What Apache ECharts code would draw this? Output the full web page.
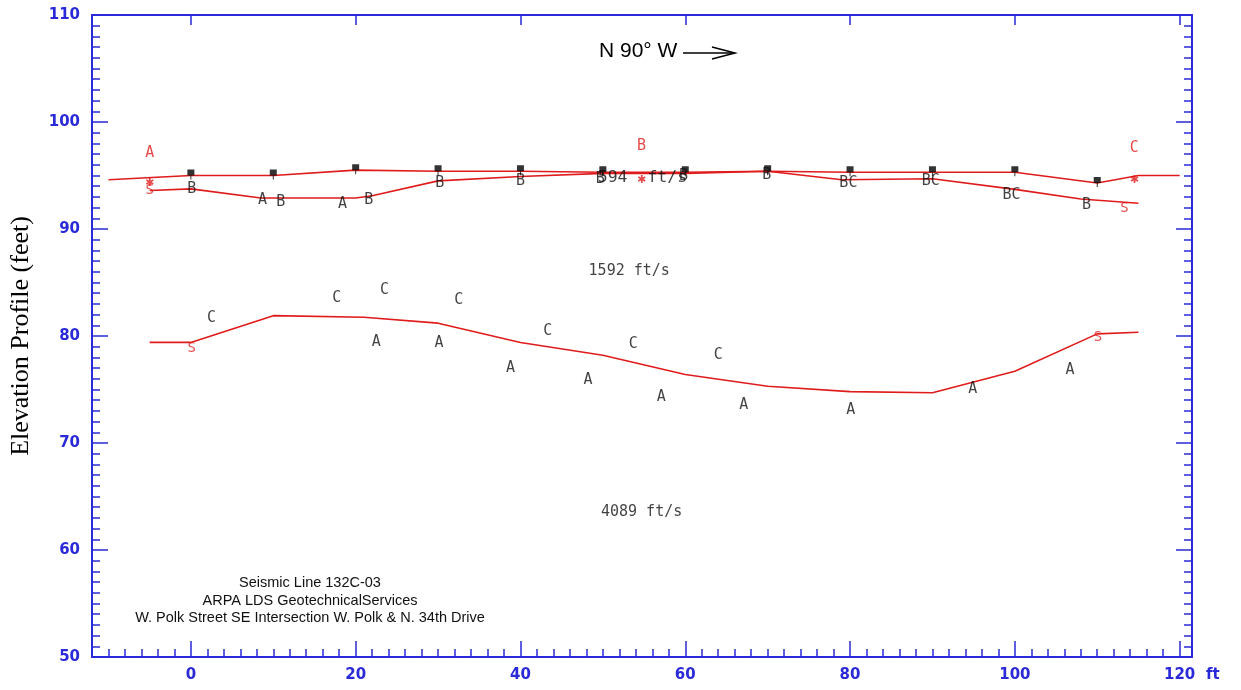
<!DOCTYPE html>
<html>
<head>
<meta charset="utf-8">
<script src="https://cdn.jsdelivr.net/npm/echarts@6/dist/echarts.min.js"></script>
<style>html,body{margin:0;padding:0;background:#fff}#c{width:1241px;height:690px}</style>
</head>
<body>
<div id="c"></div>
<script>
// ---- data ----
const xTicks = [0, 20, 40, 60, 80, 100, 120];
const yTicks = [50, 60, 70, 80, 90, 100, 110];
const surfaceX = [-10, 0, 10, 20, 30, 40, 50, 60, 70, 80, 90, 100, 110, 115, 120];
const surfaceY = [94.6, 95.0, 95.0, 95.5, 95.4, 95.4, 95.3, 95.3, 95.4, 95.3, 95.3, 95.3, 94.3, 95.0, 95.0];
const layer1X = [-5, 0, 8.5, 20, 22, 30, 40, 50, 60, 70, 79, 90, 100, 108, 115];
const layer1Y = [93.6, 93.75, 92.9, 92.9, 93.1, 94.5, 94.9, 95.2, 95.2, 95.4, 94.6, 94.7, 93.7, 92.8, 92.4];
const layer2X = [-5, 0, 10, 21, 30, 40, 50, 60, 70, 80, 90, 100, 110, 115];
const layer2Y = [79.4, 79.4, 81.9, 81.75, 81.2, 79.4, 78.2, 76.4, 75.3, 74.8, 74.7, 76.7, 80.2, 80.35];
const geophoneX = [0, 10, 20, 30, 40, 50, 60, 70, 80, 90, 100, 110];
const geophoneY = [95.0, 95.0, 95.5, 95.4, 95.4, 95.3, 95.3, 95.4, 95.3, 95.3, 95.3, 94.3];
const pickLabels = ['B', 'A', 'B', 'A', 'B', 'B', 'B', 'B', 'B', 'B', 'BC', 'BC', 'BC', 'B',
  'C', 'C', 'C', 'C', 'A', 'A', 'A', 'C', 'A', 'C', 'A', 'C', 'A', 'A', 'A', 'A'];
const pickX = [0.1, 8.7, 10.9, 18.4, 21.6, 30.2, 40, 49.7, 59.8, 69.9, 79.8, 89.8, 99.6, 108.7,
  2.5, 17.7, 23.5, 32.5, 22.5, 30.1, 38.8, 43.3, 48.2, 53.7, 57.1, 64, 67.1, 80.1, 94.9, 106.7];
const pickY = [93.7, 92.7, 92.5, 92.3, 92.7, 94.3, 94.5, 94.7, 94.9, 95.0, 94.25, 94.5, 93.2, 92.2,
  81.65, 83.5, 84.25, 83.4, 79.4, 79.3, 77.0, 80.5, 75.9, 79.2, 74.3, 78.2, 73.5, 73.06, 75.0, 76.8];
const shotLabels = ['A', 'B', 'C'];
const shotX = [-5, 54.7, 114.5];
const shotLabelY = [97.1, 97.75, 97.6];
const shotMarkY = [94.25, 94.6, 94.6];
const sLabelX = [-5, 113.3, 0.1, 110.1];
const sLabelY = [93.6, 91.9, 78.85, 79.9];
const velocityLabels = ['594  ft/s', '1592 ft/s', '4089 ft/s'];
const velocityX = [54.8, 53.2, 54.7];
const velocityY = [94.75, 86.1, 63.5];
const noteLines = ['Seismic Line 132C-03', 'ARPA LDS GeotechnicalServices', 'W. Polk Street SE Intersection W. Polk & N. 34th Drive'];

// ---- chart ----
const BLUE = '#2a2ad8';
const RED = '#e01b1b';
const MONO = 'DejaVu Sans Mono';
const zip = (a, b) => a.map((v, i) => [v, b[i]]);

const baseX = { type: 'value', min: -12, max: 121.5, splitLine: { show: false }, axisLabel: { show: false } };
const baseY = { type: 'value', min: 50, max: 110, splitLine: { show: false }, axisLabel: { show: false } };
const lineStyleAxis = { show: true, onZero: false, lineStyle: { color: BLUE, width: 2 } };
const noLine = { show: false, onZero: false };

const labelScatter = (data, color, size, extra) => Object.assign({
  type: 'scatter', symbol: 'circle', symbolSize: 1, itemStyle: { color: 'rgba(0,0,0,0)' },
  silent: true, z: 5,
  label: { show: true, position: 'inside', formatter: '{b}', color: color, fontFamily: MONO, fontSize: size },
  data: data
}, extra || {});

const option = {
  animation: false,
  backgroundColor: '#fff',
  grid: { left: 92, right: 49, top: 15, bottom: 33 },
  xAxis: [
    Object.assign({}, baseX, { position: 'bottom', interval: 2, axisLine: lineStyleAxis,
      axisTick: { show: true, inside: true, length: 8, lineStyle: { color: BLUE, width: 1.5 } } }),
    Object.assign({}, baseX, { position: 'bottom', axisLine: noLine,
      axisTick: { show: true, inside: true, length: 16, customValues: xTicks, lineStyle: { color: BLUE, width: 1.5 } },
      axisLabel: { show: true, customValues: xTicks, color: BLUE, fontFamily: 'DejaVu Sans', fontWeight: 'bold', fontSize: 15, margin: 11 } }),
    Object.assign({}, baseX, { position: 'top', axisLine: lineStyleAxis,
      axisTick: { show: true, inside: true, length: 10, customValues: xTicks, lineStyle: { color: BLUE, width: 1.5 } } })
  ],
  yAxis: [
    Object.assign({}, baseY, { position: 'left', interval: 1, axisLine: lineStyleAxis,
      axisTick: { show: true, inside: true, length: 8, lineStyle: { color: BLUE, width: 1.5 } },
      name: 'Elevation Profile (feet)', nameLocation: 'middle', nameGap: 58, nameRotate: 90,
      nameTextStyle: { color: '#000', fontFamily: 'Liberation Serif', fontSize: 26 } }),
    Object.assign({}, baseY, { position: 'left', interval: 10, axisLine: noLine,
      axisTick: { show: true, inside: true, length: 16, lineStyle: { color: BLUE, width: 1.5 } },
      axisLabel: { show: true, customValues: yTicks, color: BLUE, fontFamily: 'DejaVu Sans', fontWeight: 'bold', fontSize: 15, margin: 12 } }),
    Object.assign({}, baseY, { position: 'right', interval: 1, axisLine: lineStyleAxis,
      axisTick: { show: true, inside: true, length: 8, lineStyle: { color: BLUE, width: 1.5 } } }),
    Object.assign({}, baseY, { position: 'right', interval: 10, axisLine: noLine,
      axisTick: { show: true, inside: true, length: 16, lineStyle: { color: BLUE, width: 1.5 } } })
  ],
  series: [
    { type: 'line', data: zip(surfaceX, surfaceY), showSymbol: false, silent: true,
      lineStyle: { color: RED, width: 1.6 }, z: 3 },
    { type: 'line', data: zip(layer1X, layer1Y), showSymbol: false, silent: true,
      lineStyle: { color: RED, width: 1.6 }, z: 3 },
    { type: 'line', data: zip(layer2X, layer2Y), showSymbol: false, silent: true,
      lineStyle: { color: RED, width: 1.6 }, z: 3 },
    { type: 'scatter', data: zip(geophoneX, geophoneY), silent: true, z: 4,
      symbol: 'path://M0,0H7V6H0Z M3,6H4V10H3Z', symbolSize: [7, 10], symbolOffset: [0, -1],
      itemStyle: { color: '#000' } },
    labelScatter([{ name: velocityLabels[0], value: [velocityX[0], velocityY[0]] }], '#111', 16.5, { z: 4 }),
    labelScatter(velocityLabels.slice(1).map((t, i) => ({ name: t, value: [velocityX[i + 1], velocityY[i + 1]] })), '#111', 15, { z: 4 }),
    labelScatter(pickLabels.map((t, i) => ({ name: t, value: [pickX[i], pickY[i]] })), '#111', 15),
    labelScatter(shotLabels.map((t, i) => ({ name: t, value: [shotX[i], shotLabelY[i]] })), RED, 15),
    labelScatter(shotX.map((x, i) => ({ name: '✱', value: [x, shotMarkY[i]] })), RED, 11, { z: 6,
      label: { show: true, position: 'inside', formatter: '{b}', color: RED, fontFamily: 'DejaVu Sans', fontSize: 11 } }),
    labelScatter(sLabelX.map((x, i) => ({ name: 'S', value: [x, sLabelY[i]] })), RED, 14)
  ],
  graphic: [
    { type: 'text', left: 1206, top: 668, style: { text: 'ft', fill: BLUE, font: 'bold 15px "DejaVu Sans"' } },
    { type: 'text', left: 599, top: 41, style: { text: 'N 90° W', fill: '#000', font: '21px "Liberation Sans"' } },
    { type: 'polyline', shape: { points: [[683, 53], [735, 53]] }, style: { stroke: '#000', lineWidth: 1.5 } },
    { type: 'polyline', shape: { points: [[712, 47], [735, 53], [712, 59]] }, style: { stroke: '#000', lineWidth: 1.5, fill: null } }
  ].concat(noteLines.map((t, i) => ({
    type: 'text', x: 310, y: 583 + i * 17.5,
    style: { text: t, align: 'center', verticalAlign: 'middle', fill: '#111', font: '14.5px "Liberation Sans"' } })))
};

const chart = echarts.init(document.getElementById('c'), null, { renderer: 'canvas' });
chart.setOption(option);
</script>
</body>
</html>
